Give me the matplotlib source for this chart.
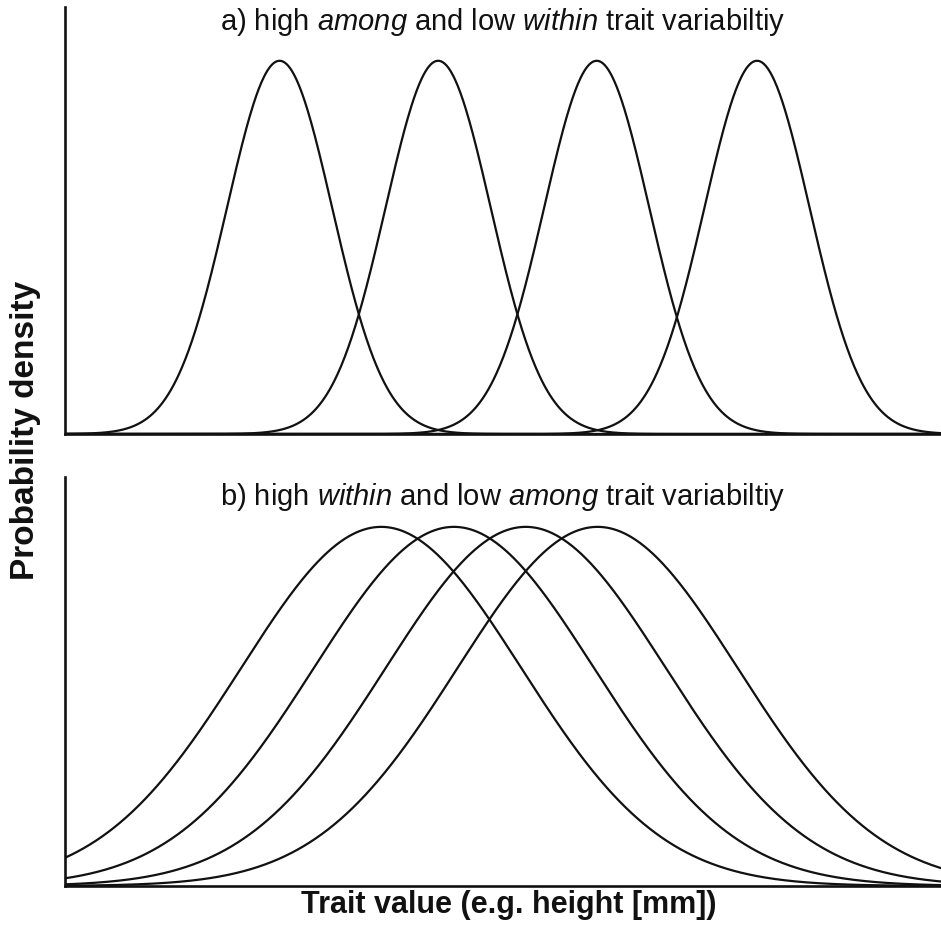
import numpy as np
import matplotlib
matplotlib.use("Agg")
import matplotlib.pyplot as plt

plt.rcParams['font.family'] = ['Liberation Sans', 'DejaVu Sans']
plt.rcParams['mathtext.fontset'] = 'custom'
plt.rcParams['mathtext.rm'] = 'Liberation Sans'
plt.rcParams['mathtext.it'] = 'Liberation Sans:italic'

# Panel a: high among, low within variability
means_a = [24.5, 42.6, 60.7, 79.0]
sd_a = 6.0
# Panel b: high within, low among variability
means_b = [36.1, 44.4, 52.6, 60.8]
sd_b = 16.0

title_a = r"a) high $\it{among}$ and low $\it{within}$ trait variabiltiy"
title_b = r"b) high $\it{within}$ and low $\it{among}$ trait variabiltiy"
xlabel = "Trait value (e.g. height [mm])"
ylabel = "Probability density"

x = np.linspace(0, 100, 1000)

def pdf(x, m, s):
    return np.exp(-0.5 * ((x - m) / s) ** 2) / (s * np.sqrt(2 * np.pi))

fig = plt.figure(figsize=(9.41, 9.37), dpi=100)
ax1 = fig.add_axes([0.069, 0.5358, 0.931, 0.4557])
ax2 = fig.add_axes([0.069, 0.0534, 0.931, 0.4365])

for ax, means, sd, title, frac, ty in [(ax1, means_a, sd_a, title_a, 0.874, 0.967),
                                        (ax2, means_b, sd_b, title_b, 0.878, 0.953)]:
    for m in means:
        ax.plot(x, pdf(x, m, sd), color='#111111', lw=1.6)
    peak = pdf(0, 0, sd)
    ax.set_xlim(0, 100)
    ax.set_ylim(0, peak / frac)
    ax.set_xticks([])
    ax.set_yticks([])
    for s in ['top', 'right']:
        ax.spines[s].set_visible(False)
    for s in ['left', 'bottom']:
        ax.spines[s].set_linewidth(1.9)
        ax.spines[s].set_color('#111111')
    ax.text(0.5, ty, title, transform=ax.transAxes, ha='center', va='center',
            fontsize=21, color='#111111')

fig.text(0.541, 0.034, xlabel, ha='center', va='center', fontsize=22,
         fontweight='bold', color='#111111')
fig.text(0.027, 0.541, ylabel, ha='center', va='center', rotation=90, fontsize=24,
         fontweight='bold', color='#111111')

fig.savefig('out.png', dpi=100)
